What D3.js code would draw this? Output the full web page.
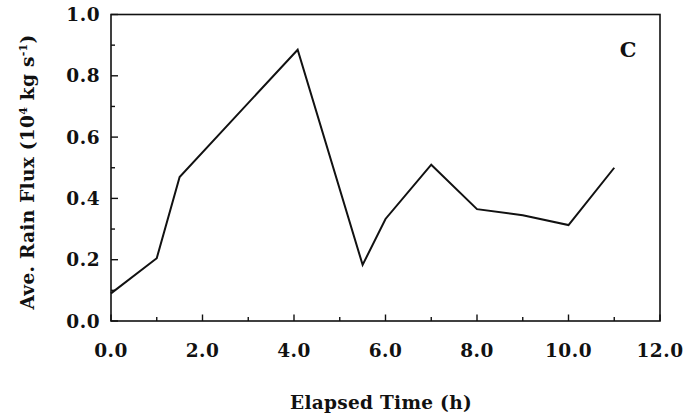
<!DOCTYPE html>
<html>
<head>
<meta charset="utf-8">
<script src="https://cdn.jsdelivr.net/npm/d3@7"></script>
<style>
  html, body { margin: 0; padding: 0; background: #fff; }
  svg { display: block; }
  text { font-family: "DejaVu Serif", "Liberation Serif", serif; font-weight: bold; fill: #111; }
</style>
</head>
<body>
<svg id="chart" width="687" height="420"></svg>
<script>
// Data
const elapsedHours = [0, 1, 1.5, 4.08, 5.5, 6, 7, 8, 9, 10, 11];
const rainFlux     = [0.09, 0.205, 0.47, 0.885, 0.183, 0.333, 0.51, 0.365, 0.345, 0.313, 0.50];
const xTickValues  = [0, 2, 4, 6, 8, 10, 12];
const xTickLabels  = ["0.0", "2.0", "4.0", "6.0", "8.0", "10.0", "12.0"];
const yTickValues  = [0, 0.2, 0.4, 0.6, 0.8, 1.0];
const yTickLabels  = ["0.0", "0.2", "0.4", "0.6", "0.8", "1.0"];
const panelLabel   = "C";

const svg = d3.select("#chart");
const plotL = 111, plotR = 660, plotT = 14.5, plotB = 321;

const x = d3.scaleLinear().domain([0, 12]).range([plotL, plotR]);
const y = d3.scaleLinear().domain([0, 1]).range([plotB, plotT]);

// frame
svg.append("rect")
  .attr("x", plotL).attr("y", plotT)
  .attr("width", plotR - plotL).attr("height", plotB - plotT)
  .attr("fill", "none").attr("stroke", "#111").attr("stroke-width", 1.6);

// x ticks (inward, from bottom)
const xMinor = d3.range(0, 13, 1);
svg.append("g").selectAll("line").data(xMinor).join("line")
  .attr("x1", d => x(d)).attr("x2", d => x(d))
  .attr("y1", plotB).attr("y2", d => plotB - (d % 2 === 0 ? 6.5 : 4))
  .attr("stroke", "#111").attr("stroke-width", 1.4);

// y ticks (inward, from left)
const yMinor = d3.range(0, 11, 1).map(i => i / 10);
svg.append("g").selectAll("line").data(yMinor).join("line")
  .attr("y1", d => y(d)).attr("y2", d => y(d))
  .attr("x1", plotL).attr("x2", (d, i) => plotL + (i % 2 === 0 ? 7 : 4))
  .attr("stroke", "#111").attr("stroke-width", 1.4);

// x tick labels
svg.append("g").selectAll("text").data(xTickValues).join("text")
  .attr("x", d => x(d)).attr("y", 357)
  .attr("text-anchor", "middle")
  .attr("font-size", 18.5)
  .attr("letter-spacing", 0.5)
  .text((d, i) => xTickLabels[i]);

// y tick labels
svg.append("g").selectAll("text").data(yTickValues).join("text")
  .attr("x", 100).attr("y", d => y(d) + 6.5)
  .attr("text-anchor", "end")
  .attr("font-size", 18.5)
  .attr("letter-spacing", 0.5)
  .text((d, i) => yTickLabels[i]);

// data line
const line = d3.line().x(d => x(d[0])).y(d => y(d[1]));
svg.append("path")
  .datum(d3.zip(elapsedHours, rainFlux))
  .attr("d", line)
  .attr("fill", "none").attr("stroke", "#111").attr("stroke-width", 2)
  .attr("stroke-linejoin", "miter");

// panel label
svg.append("text")
  .attr("x", 628).attr("y", 57)
  .attr("text-anchor", "middle")
  .attr("font-size", 21)
  .text(panelLabel);

// x axis title
svg.append("text")
  .attr("x", 381).attr("y", 409)
  .attr("text-anchor", "middle")
  .attr("font-size", 18.5)
  .attr("letter-spacing", 0.3)
  .text("Elapsed Time (h)");

// y axis title
const yt = svg.append("text")
  .attr("transform", "translate(34,172) rotate(-90)")
  .attr("text-anchor", "middle")
  .attr("font-size", 18.5)
  .attr("letter-spacing", 0.3);
yt.append("tspan").text("Ave. Rain Flux (10");
yt.append("tspan").attr("dy", -7).attr("font-size", 11).text("4");
yt.append("tspan").attr("dy", 7).text(" kg s");
yt.append("tspan").attr("dy", -7).attr("font-size", 11).text("-1");
yt.append("tspan").attr("dy", 7).text(")");
</script>
</body>
</html>
